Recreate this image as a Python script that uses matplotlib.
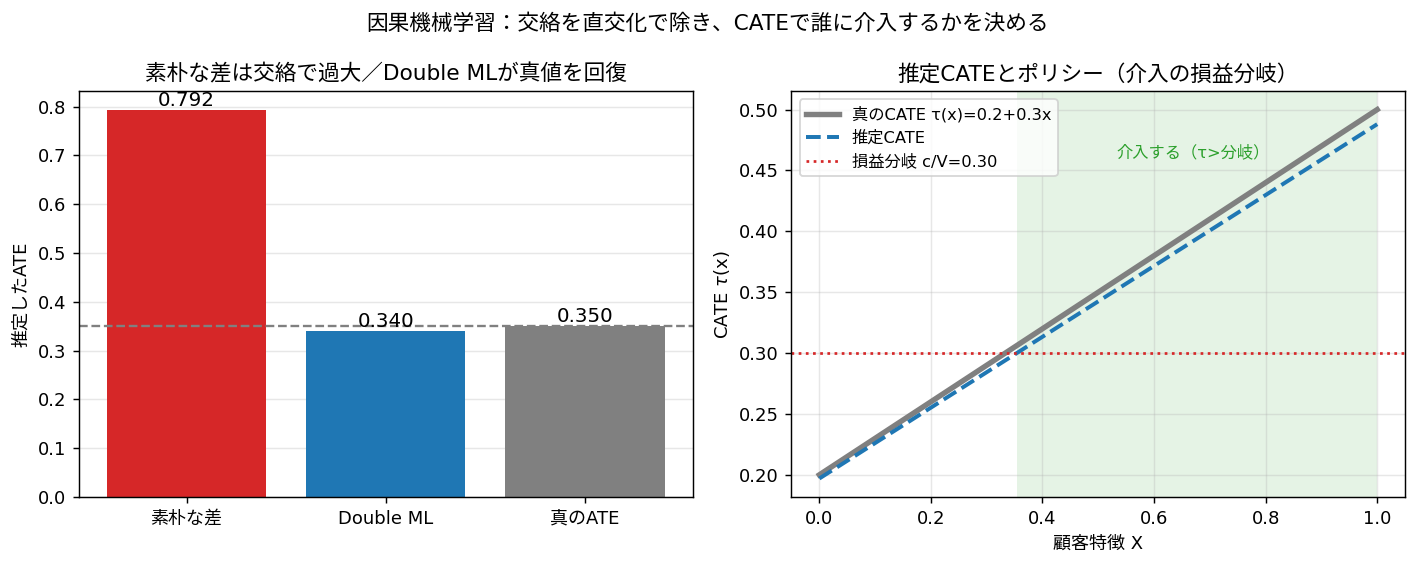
import numpy as np
import matplotlib
matplotlib.use('Agg')
import matplotlib.pyplot as plt

plt.rcParams['font.family'] = ['DejaVu Sans', 'Noto Sans CJK JP']
plt.rcParams['axes.unicode_minus'] = False

# 左: ATE の推定比較
methods = ['素朴な差', 'Double ML', '真のATE']
ate_values = [0.792, 0.340, 0.350]
true_ate = 0.350

# 右: CATE の直線
x_feature = [0.0, 1.0]
cate_true = [0.200, 0.500]
cate_est = [0.197, 0.488]
threshold = 0.30
x_cross = 0.355

DPI = 130
fig, (ax1, ax2) = plt.subplots(1, 2, figsize=(1415 / DPI, 566 / DPI), dpi=DPI)
fig.subplots_adjust(left=0.0558, right=0.993, top=0.839, bottom=0.122, wspace=0.161)

bars = ax1.bar(methods, ate_values, color=['tab:red', 'tab:blue', 'gray'], width=0.8)
ax1.bar_label(bars, labels=[f'{v:.3f}' for v in ate_values], fontsize=11, padding=0)
ax1.axhline(true_ate, color='gray', linestyle='--', linewidth=1.3)
ax1.set_ylabel('推定したATE')
ax1.set_title('素朴な差は交絡で過大／Double MLが真値を回復')
ax1.grid(axis='y', alpha=0.3)
ax1.set_axisbelow(True)

ax2.axvspan(x_cross, 1.0, color='tab:green', alpha=0.12, linewidth=0)
ax2.plot(x_feature, cate_true, color='gray', linewidth=3, label='真のCATE τ(x)=0.2+0.3x')
ax2.plot(x_feature, cate_est, color='tab:blue', linestyle='--', linewidth=2.2, label='推定CATE')
ax2.axhline(threshold, color='tab:red', linestyle=':', linewidth=1.5, label=f'損益分岐 c/V={threshold:.2f}')
ax2.text(0.67, 0.4645, '介入する（τ>分岐）', color='tab:green', ha='center', va='center', fontsize=9)
ax2.set_xlabel('顧客特徴 X')
ax2.set_ylabel(r'CATE $\tau$(x)')
ax2.set_title('推定CATEとポリシー（介入の損益分岐）')
ax2.legend(loc='upper left', fontsize=9)
ax2.grid(alpha=0.3)

fig.suptitle('因果機械学習：交絡を直交化で除き、CATEで誰に介入するかを決める', fontsize=12, y=0.976)
fig.savefig('out.png', dpi=DPI)
